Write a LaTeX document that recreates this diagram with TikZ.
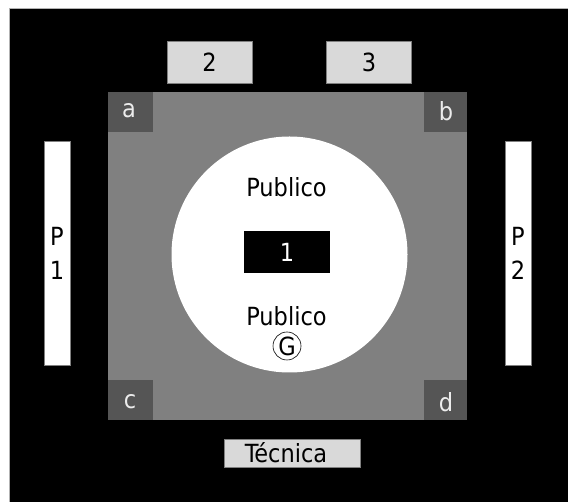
\documentclass[tikz,border=0pt]{standalone}
\usepackage{fontspec}
\setmainfont{DejaVu Sans Condensed}
\usepackage{xcolor}
\definecolor{stagegrey}{HTML}{808080}
\definecolor{cornergrey}{HTML}{555555}
\definecolor{boxgrey}{HTML}{D9D9D9}

\begin{document}
\begin{tikzpicture}[x=1pt, y=-1pt, every node/.style={font=\fontsize{25}{30}\selectfont, inner sep=0pt}]
      \useasboundingbox (0,0) rectangle (568,502);
      % hall
      \fill[black] (9,9) rectangle (568,502);
      \draw[gray!60, line width=1pt] (9,502) -- (9,9) -- (568,9);
      % stage
      \fill[stagegrey] (108,92) rectangle (467,420);
      % corners
      \fill[cornergrey] (108,92) rectangle (153,132);
      \fill[cornergrey] (424,92) rectangle (467,132);
      \fill[cornergrey] (108,380) rectangle (153,420);
      \fill[cornergrey] (424,380) rectangle (467,420);
      \node[text=gray!15] (a) at (129,111) {a};
      \node[text=gray!15] (b) at (446,111) {b};
      \node[text=gray!15] (c) at (130,402) {c};
      \node[text=gray!15] (d) at (446,402) {d};
      % audience circle
      \fill[white] (289.5,254.5) circle (118);
      \node (pubtop) at (286.5,187) {Publico};
      \node (pubbot) at (286.5,316) {Publico};
      % centre block 1
      \fill[black] (244,231) rectangle (330,273);
      \node[text=white] (one) at (287,252) {1};
      % G mark
      \node[draw, circle, line width=0.6pt, minimum size=28pt] (g) at (287,346) {G};
      % boxes 2 and 3
      \node[fill=boxgrey, draw=gray, minimum width=85pt, minimum height=42pt] (two) at (209.5,62) {2};
      \node[fill=boxgrey, draw=gray, minimum width=85pt, minimum height=42pt] (three) at (369,62) {3};
      % side panels
      \node[fill=white, draw=gray, minimum width=26pt, minimum height=224pt, align=center] (p1) at (57,253) {P\\[4pt]1};
      \node[fill=white, draw=gray, minimum width=26pt, minimum height=224pt, align=center] (p2) at (518,253) {P\\[4pt]2};
      % tecnica
      \node[fill=boxgrey, draw=gray, minimum width=136pt, minimum height=28pt] (tec) at (292,453) {};
      \node (tectext) at (286,453) {Técnica};
    \end{tikzpicture}
\end{document}
